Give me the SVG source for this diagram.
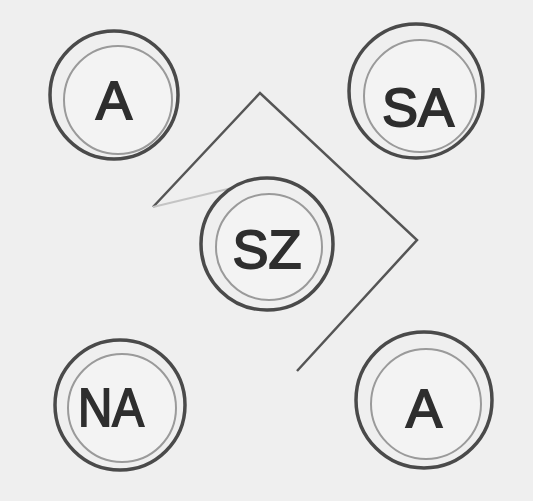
<svg xmlns="http://www.w3.org/2000/svg" width="533" height="501" viewBox="0 0 533 501">
<style>
.outer{fill:none;stroke:#4a4a4a;stroke-width:3.5}
.inner{fill:#f3f3f3;stroke:#9a9a9a;stroke-width:2}
.lbl{font-family:"Liberation Sans","DejaVu Sans",sans-serif;font-size:54px;fill:#2e2e2e;stroke:#2e2e2e;stroke-width:1.8;text-anchor:middle}
.conn{fill:none;stroke:#555;stroke-width:2.5;stroke-linejoin:miter}
</style>
<rect width="533" height="501" fill="#efefef"/>
<g id="connectors">
<polyline class="conn" points="153,207 260,93 417,240 297,371"/>
<line x1="153" y1="207" x2="232" y2="188" stroke="#c4c4c4" stroke-width="2"/>
</g>
<g id="node-A-top">
<circle class="inner" cx="118" cy="100" r="54"/>
<circle class="outer" cx="114" cy="95" r="64"/>
<text class="lbl" x="114" y="119">A</text>
</g>
<g id="node-SA">
<circle class="inner" cx="420" cy="96" r="56"/>
<circle class="outer" cx="416" cy="91" r="67"/>
<text class="lbl" x="418" y="126">SA</text>
</g>
<g id="node-SZ">
<circle class="inner" cx="269" cy="247" r="53"/>
<circle class="outer" cx="267" cy="244" r="66"/>
<text class="lbl" x="267" y="268">SZ</text>
</g>
<g id="node-NA">
<circle class="inner" cx="122" cy="408" r="54"/>
<circle class="outer" cx="120" cy="405" r="65"/>
<text class="lbl" x="111" y="426" textLength="66" lengthAdjust="spacingAndGlyphs">NA</text>
</g>
<g id="node-A-bottom">
<circle class="inner" cx="426" cy="404" r="55"/>
<circle class="outer" cx="424" cy="400" r="68"/>
<text class="lbl" x="424" y="427">A</text>
</g>
</svg>
